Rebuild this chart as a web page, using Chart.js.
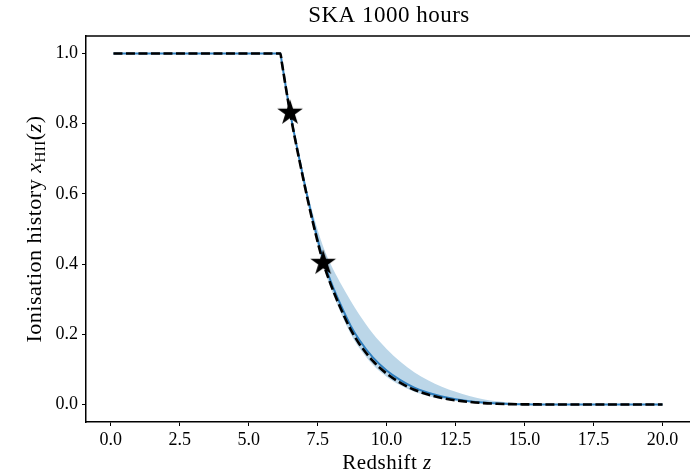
<!DOCTYPE html>
<html>
<head>
<meta charset="utf-8">
<script src="https://cdn.jsdelivr.net/npm/chart.js@4.4.1/dist/chart.umd.min.js"></script>
<style>
  body { margin: 0; background: #fff; }
  #wrap { width: 690px; height: 475px; }
</style>
</head>
<body>
<div id="wrap"><canvas id="historia" width="690" height="475"></canvas></div>
<script>
// redshift grid and ionisation fractions
const redshift = [0.1, 6.15, 6.2, 6.5, 7.0, 7.3, 7.7, 8.0, 8.3, 8.7, 9.0, 9.5, 10.0, 10.5, 11.0, 11.5, 12.0, 12.5, 13.0, 13.5, 14.0, 14.5, 15.0, 15.5, 16.0, 20.0];
const truth    = [1.0, 1.0, 0.9755, 0.832, 0.635, 0.528, 0.405, 0.337, 0.280, 0.213, 0.174, 0.124, 0.088, 0.0615, 0.042, 0.0282, 0.0185, 0.0118, 0.0072, 0.0039, 0.0019, 0.0008, 0.0003, 0.0001, 0, 0];
const median   = [1.0, 1.0, 0.976, 0.834, 0.639, 0.534, 0.413, 0.346, 0.290, 0.224, 0.185, 0.134, 0.097, 0.0695, 0.048, 0.0332, 0.0225, 0.0148, 0.0092, 0.0054, 0.0029, 0.0013, 0.0003, 0.0001, 0, 0];
const upper    = [1.0, 1.0, 0.976, 0.836, 0.649, 0.553, 0.450, 0.395, 0.350, 0.295, 0.257, 0.202, 0.158, 0.1215, 0.092, 0.069, 0.0505, 0.036, 0.024, 0.015, 0.009, 0.005, 0.0023, 0.0009, 0, 0];
const lower    = [1.0, 1.0, 0.975, 0.829, 0.628, 0.520, 0.395, 0.326, 0.268, 0.201, 0.162, 0.113, 0.079, 0.0545, 0.036, 0.0242, 0.0155, 0.0098, 0.0057, 0.0029, 0.0014, 0.0004, 0.0001, 0, 0, 0];
const starZ = [6.5, 7.7];
const starX = [0.831, 0.403];
const xTicks = [0, 2.5, 5, 7.5, 10, 12.5, 15, 17.5, 20];
const yTicks = [0, 0.2, 0.4, 0.6, 0.8, 1.0];

const serif = "'Liberation Serif', 'DejaVu Serif', serif";

function pts(ys) {
  return redshift.map((z, i) => ({ x: z, y: ys[i] }));
}

// filled five-point star like matplotlib's '*'
function estrela(r) {
  const c = document.createElement('canvas');
  const s = 30;
  c.width = s; c.height = s;
  const g = c.getContext('2d');
  g.fillStyle = '#000';
  g.beginPath();
  for (let i = 0; i < 10; i++) {
    const a = -Math.PI / 2 + i * Math.PI / 5;
    const rr = i % 2 ? r * 0.382 : r;
    g.lineTo(s / 2 + rr * Math.cos(a), s / 2 + rr * Math.sin(a));
  }
  g.closePath();
  g.fill();
  return c;
}
const starImg = estrela(13.5);

// title, axis labels (with italic/subscript parts) and top spine
const textos = {
  id: 'textos',
  afterDraw(chart) {
    const ctx = chart.ctx;
    const a = chart.chartArea;
    ctx.save();
    ctx.strokeStyle = '#000';
    ctx.lineWidth = 1.5;
    ctx.beginPath();
    ctx.moveTo(a.left - 0.75, a.top);
    ctx.lineTo(a.right + 2, a.top);
    ctx.stroke();

    ctx.fillStyle = '#000';
    ctx.textBaseline = 'alphabetic';
    ctx.letterSpacing = '0.5px';
    ctx.textAlign = 'center';
    ctx.font = '23px ' + serif;
    ctx.fillText('SKA 1000 hours', 389, 22);

    function linha(parts, x0, y0) {
      let x = x0;
      parts.forEach(p => {
        ctx.font = p[1];
        ctx.textAlign = 'left';
        ctx.fillText(p[0], x, y0 + (p[2] || 0));
        x += ctx.measureText(p[0]).width;
      });
    }
    function largura(parts) {
      let w = 0;
      parts.forEach(p => { ctx.font = p[1]; w += ctx.measureText(p[0]).width; });
      return w;
    }

    const xl = [['Redshift ', '21px ' + serif], ['z', 'italic 21px ' + serif]];
    linha(xl, 387 - largura(xl) / 2, 469);

    const yl = [
      ['Ionisation history ', '22px ' + serif],
      ['x', 'italic 22px ' + serif],
      ['HII', '15px ' + serif, 4],
      ['(', '22px ' + serif],
      ['z', 'italic 22px ' + serif],
      [')', '22px ' + serif]
    ];
    ctx.translate(41, (a.top + a.bottom) / 2);
    ctx.rotate(-Math.PI / 2);
    linha(yl, -largura(yl) / 2, 0);
    ctx.restore();
  }
};

new Chart(document.getElementById('historia'), {
  type: 'line',
  data: {
    datasets: [
      {
        label: 'stars',
        data: starZ.map((z, i) => ({ x: z, y: starX[i] })),
        showLine: false,
        pointStyle: starImg,
        pointRadius: 14,
        order: 0
      },
      {
        label: 'truth',
        data: pts(truth),
        borderColor: '#000',
        borderWidth: 2.6,
        borderDash: [9, 3.5],
        pointRadius: 0,
        cubicInterpolationMode: 'monotone',
        fill: false,
        order: 1
      },
      {
        label: 'median',
        data: pts(median),
        borderColor: '#2f7fbf',
        borderWidth: 2,
        pointRadius: 0,
        cubicInterpolationMode: 'monotone',
        fill: false,
        order: 2
      },
      {
        label: 'upper',
        data: pts(upper),
        borderWidth: 0,
        borderColor: 'rgba(0,0,0,0)',
        backgroundColor: 'rgba(31,119,180,0.3)',
        pointRadius: 0,
        cubicInterpolationMode: 'monotone',
        fill: '+1',
        order: 3
      },
      {
        label: 'lower',
        data: pts(lower),
        borderWidth: 0,
        borderColor: 'rgba(0,0,0,0)',
        pointRadius: 0,
        cubicInterpolationMode: 'monotone',
        fill: false,
        order: 4
      }
    ]
  },
  options: {
    responsive: false,
    animation: false,
    layout: { autoPadding: false, padding: { top: 36, left: 0, right: 0, bottom: 0 } },
    plugins: {
      legend: { display: false },
      tooltip: { enabled: false },
      title: { display: false }
    },
    scales: {
      x: {
        type: 'linear',
        min: -0.895,
        max: 20.995,
        afterBuildTicks: s => { s.ticks = xTicks.map(v => ({ value: v })); },
        afterFit: s => { s.height = 53; s.paddingRight = 0; s.paddingLeft = 0; },
        grid: { drawOnChartArea: false, drawTicks: true, tickLength: 4, color: '#000', tickWidth: 1 },
        border: { color: '#000', width: 1.5 },
        ticks: {
          color: '#000',
          font: { family: serif, size: 18 },
          padding: 3,
          maxRotation: 0,
          callback: v => v.toFixed(1)
        }
      },
      y: {
        type: 'linear',
        min: -0.05,
        max: 1.05,
        afterBuildTicks: s => { s.ticks = yTicks.map(v => ({ value: v })); },
        afterFit: s => { s.width = 86; },
        grid: { drawOnChartArea: false, drawTicks: true, tickLength: 4, color: '#000', tickWidth: 1 },
        border: { color: '#000', width: 1.5 },
        ticks: {
          color: '#000',
          font: { family: serif, size: 18 },
          padding: 4,
          callback: v => v.toFixed(1)
        }
      }
    }
  },
  plugins: [textos]
});
</script>
</body>
</html>
